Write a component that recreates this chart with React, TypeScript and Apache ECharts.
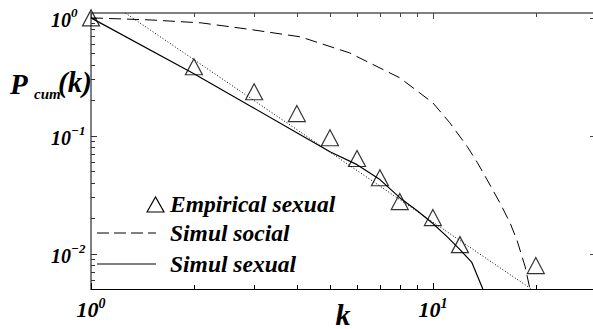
import React, { useEffect, useRef } from 'react';
import * as echarts from 'echarts';

// ---- data ----
const empiricalK = [1, 2, 3, 4, 5, 6, 7, 8, 10, 12, 20];
const empiricalP = [1.0, 0.385, 0.236, 0.154, 0.096, 0.064, 0.044, 0.0276, 0.0202, 0.0119, 0.0079];

const socialK = [1, 1.5, 2.1, 2.9, 4.1, 5.7, 8.0, 10, 11.2, 12.6, 13.5, 14.4, 15.7, 16.8, 17.6, 18.6, 19.2];
const socialP = [1.0, 0.96, 0.907, 0.8, 0.69, 0.505, 0.31, 0.19, 0.129, 0.081, 0.059, 0.0424, 0.027, 0.0183, 0.0131, 0.0078, 0.0051];

const sexualK = [1, 2, 3, 4, 5, 6, 7, 8, 9, 10, 11, 12, 13, 14];
const sexualP = [1.0, 0.335, 0.171, 0.106, 0.073, 0.0568, 0.0424, 0.0298, 0.0231, 0.018, 0.0139, 0.0108, 0.0084, 0.005];

const fitK = [1.26, 19.4];
const fitP = [1.1, 0.005];

const xMin = 1;
const xMax = 30;
const yMin = 0.005;
const yMax = 1.1;

const xMajorTicks = [1, 10];
const xMinorTicks = [2, 3, 4, 5, 6, 7, 8, 9, 20, 30];
const yMajorTicks = [0.01, 0.1, 1];
const yMinorTicks = [
  0.006, 0.007, 0.008, 0.009,
  0.02, 0.03, 0.04, 0.05, 0.06, 0.07, 0.08, 0.09,
  0.2, 0.3, 0.4, 0.5, 0.6, 0.7, 0.8, 0.9,
];

const legendNames = ['Empirical sexual', 'Simul social', 'Simul sexual'];
const xAxisTitle = 'k';

const FONT = "'Liberation Serif', 'Times New Roman', serif";

function powLabel(v: number): string {
  const l = Math.log10(v);
  const r = Math.round(l);
  if (Math.abs(l - r) > 1e-6) return '';
  const e = r < 0 ? '\u2212' + String(-r) : String(r);
  return `{b|10}{s|${e}}`;
}

export default function App() {
  const ref = useRef<HTMLDivElement>(null);

  useEffect(() => {
    if (!ref.current) return;
    const chart = echarts.init(ref.current, undefined, { renderer: 'svg' });

    const tickData: number[][] = [
      ...xMajorTicks.map((v) => [v, yMin, 1, 0]),
      ...xMinorTicks.map((v) => [v, yMin, 0, 0]),
      ...yMajorTicks.map((v) => [xMin, v, 1, 1]),
      ...yMinorTicks.map((v) => [xMin, v, 0, 1]),
    ];

    const labelRichX = {
      b: { fontFamily: FONT, fontWeight: 'bold', fontStyle: 'italic', fontSize: 22, lineHeight: 24, color: '#000', verticalAlign: 'bottom' },
      s: { fontFamily: FONT, fontWeight: 'bold', fontStyle: 'italic', fontSize: 14, lineHeight: 14, color: '#000', verticalAlign: 'top' },
    };
    const labelRichY = {
      b: { fontFamily: FONT, fontWeight: 'bold', fontStyle: 'italic', fontSize: 20, lineHeight: 24, color: '#000', verticalAlign: 'bottom' },
      s: { fontFamily: FONT, fontWeight: 'bold', fontStyle: 'italic', fontSize: 13, lineHeight: 13, color: '#000', verticalAlign: 'top' },
    };

    const textStyleBase = { fontFamily: FONT, fontWeight: 'bold', fontStyle: 'italic', fill: '#000' };

    const option: any = {
      animation: false,
      grid: { left: 91, top: 13, width: 505, height: 276, outerBoundsMode: 'none', containLabel: false },
      xAxis: [
        {
          type: 'log',
          logBase: 10,
          min: xMin,
          max: xMax,
          axisLine: { show: true, lineStyle: { color: '#000', width: 1.2 } },
          axisTick: { show: false },
          splitLine: { show: false },
          axisLabel: {
            formatter: (v: number) => powLabel(v),
            rich: labelRichX,
            margin: 7,
            showMinLabel: true,
            showMaxLabel: false,
          },
        },
        {
          type: 'log',
          logBase: 10,
          min: xMin,
          max: xMax,
          position: 'top',
          axisLine: { show: true, lineStyle: { color: '#808080', width: 2 } },
          axisTick: { show: false },
          axisLabel: { show: false },
          splitLine: { show: false },
        },
      ],
      yAxis: [
        {
          type: 'log',
          logBase: 10,
          min: yMin,
          max: yMax,
          axisLine: { show: true, lineStyle: { color: '#555', width: 1.5 } },
          axisTick: { show: false },
          splitLine: { show: false },
          axisLabel: {
            formatter: (v: number) => powLabel(v),
            rich: labelRichY,
            align: 'left',
            margin: 40,
            showMinLabel: false,
            showMaxLabel: false,
          },
        },
      ],
      series: [
        {
          name: legendNames[1],
          type: 'line',
          data: socialK.map((k, i) => [k, socialP[i]]),
          showSymbol: false,
          symbol: 'none',
          lineStyle: { color: '#000', width: 1, type: [12, 6] },
          silent: true,
        },
        {
          name: 'fit',
          type: 'line',
          data: fitK.map((k, i) => [k, fitP[i]]),
          showSymbol: false,
          symbol: 'none',
          lineStyle: { color: '#000', width: 1, type: [1, 2] },
          silent: true,
        },
        {
          name: legendNames[2],
          type: 'line',
          data: sexualK.map((k, i) => [k, sexualP[i]]),
          showSymbol: false,
          symbol: 'none',
          lineStyle: { color: '#000', width: 1.2 },
          silent: true,
        },
        {
          name: legendNames[0],
          type: 'scatter',
          data: empiricalK.map((k, i) => [k, empiricalP[i]]),
          symbol: 'triangle',
          symbolSize: [17, 16],
          itemStyle: { color: 'rgba(0,0,0,0)', borderColor: '#000', borderWidth: 1.2 },
          clip: false,
          silent: true,
        },
        {
          name: 'ticks',
          type: 'custom',
          silent: true,
          clip: false,
          data: tickData,
          renderItem: (params: any, api: any) => {
            const cs = params.coordSys;
            const major = api.value(2);
            const dir = api.value(3);
            const len = major ? 6 : 4;
            if (dir === 0) {
              const p = api.coord([api.value(0), yMin]);
              const x = Math.round(p[0]) + 0.5;
              return {
                type: 'group',
                children: [
                  { type: 'line', shape: { x1: x, y1: cs.y + cs.height, x2: x, y2: cs.y + cs.height - len }, style: { stroke: '#000', lineWidth: 1 } },
                  { type: 'line', shape: { x1: x, y1: cs.y, x2: x, y2: cs.y + len }, style: { stroke: '#444', lineWidth: 1 } },
                ],
              };
            }
            const p = api.coord([xMin, api.value(1)]);
            const y = Math.round(p[1]) + 0.5;
            const children: any[] = [
              { type: 'line', shape: { x1: cs.x, y1: y, x2: cs.x + len, y2: y }, style: { stroke: '#333', lineWidth: 1 } },
            ];
            if (major) {
              children.push({ type: 'line', shape: { x1: cs.x + cs.width, y1: y, x2: cs.x + cs.width - len, y2: y }, style: { stroke: '#444', lineWidth: 1 } });
            }
            return { type: 'group', children };
          },
        },
      ],
      graphic: [
        // x axis title k
        { type: 'text', x: 343, y: 314, style: { ...textStyleBase, text: xAxisTitle, fontSize: 30, verticalAlign: 'middle', align: 'center' } },
        // y axis title P_cum(k)
        { type: 'text', x: 10, y: 84, style: { ...textStyleBase, text: 'P', fontSize: 29, verticalAlign: 'middle', align: 'left' } },
        { type: 'text', x: 34, y: 94, style: { ...textStyleBase, text: 'cum', fontSize: 15, verticalAlign: 'middle', align: 'left' } },
        { type: 'text', x: 58, y: 82, style: { ...textStyleBase, text: '(k)', fontSize: 29, verticalAlign: 'middle', align: 'left' } },
        // legend
        { type: 'polygon', shape: { points: [[147, 212], [155.5, 197], [164, 212]] }, style: { fill: 'none', stroke: '#000', lineWidth: 1.2 } },
        { type: 'text', x: 170, y: 204, style: { ...textStyleBase, text: legendNames[0], fontSize: 23.5, verticalAlign: 'middle', align: 'left' } },
        { type: 'line', shape: { x1: 97, y1: 233, x2: 156, y2: 233 }, style: { stroke: '#000', lineWidth: 1, lineDash: [12, 5] } },
        { type: 'text', x: 170, y: 233, style: { ...textStyleBase, text: legendNames[1], fontSize: 23.5, verticalAlign: 'middle', align: 'left' } },
        { type: 'line', shape: { x1: 97, y1: 264, x2: 156, y2: 264 }, style: { stroke: '#000', lineWidth: 1.2 } },
        { type: 'text', x: 170, y: 264, style: { ...textStyleBase, text: legendNames[2], fontSize: 23.5, verticalAlign: 'middle', align: 'left' } },
      ],
    };

    chart.setOption(option);
    return () => {
      chart.dispose();
    };
  }, []);

  return <div ref={ref} style={{ width: 593, height: 329, position: 'absolute', left: 0, top: 0, background: '#fff' }} />;
}
